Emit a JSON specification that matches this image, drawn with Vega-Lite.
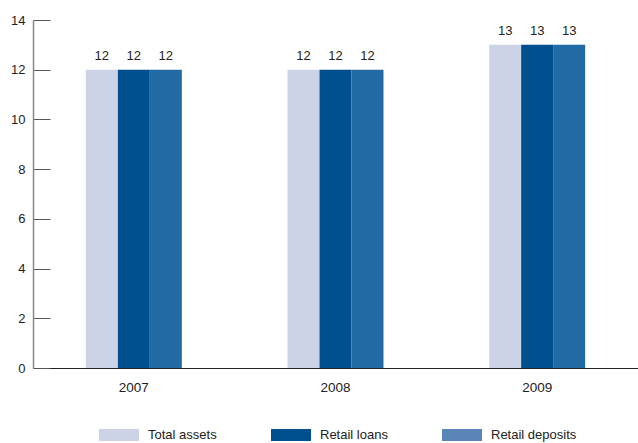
{
  "$schema": "https://vega.github.io/schema/vega-lite/v6.json",
  "width": 605,
  "height": 348,
  "autosize": "none",
  "padding": {"left": 33, "top": 20, "right": 0, "bottom": 75},
  "background": "white",
  "config": {
    "view": {"stroke": null},
    "font": "Liberation Sans",
    "text": {"font": "Liberation Sans"}
  },
  "data": {
    "values": [
      {"year": "2007", "series": "Total assets", "value": 12},
      {"year": "2007", "series": "Retail loans", "value": 12},
      {"year": "2007", "series": "Retail deposits", "value": 12},
      {"year": "2008", "series": "Total assets", "value": 12},
      {"year": "2008", "series": "Retail loans", "value": 12},
      {"year": "2008", "series": "Retail deposits", "value": 12},
      {"year": "2009", "series": "Total assets", "value": 13},
      {"year": "2009", "series": "Retail loans", "value": 13},
      {"year": "2009", "series": "Retail deposits", "value": 13}
    ]
  },
  "encoding": {
    "x": {
      "field": "year", "type": "nominal",
      "scale": {"paddingInner": 0.524, "paddingOuter": 0.262},
      "axis": {
        "title": null, "labelAngle": 0, "ticks": false, "labelPadding": 12,
        "labelFontSize": 13.5, "labelColor": "#222", "domainColor": "#222", "domainWidth": 1
      }
    },
    "xOffset": {
      "field": "series", "type": "nominal",
      "sort": ["Total assets", "Retail loans", "Retail deposits"],
      "scale": {"paddingInner": 0, "paddingOuter": 0}
    },
    "y": {
      "field": "value", "type": "quantitative",
      "scale": {"domain": [0, 14], "nice": false},
      "axis": {
        "title": null, "values": [0, 2, 4, 6, 8, 10, 12, 14], "grid": false,
        "tickSize": -17, "labelPadding": 25, "labelFontSize": 13, "labelColor": "#222",
        "domainColor": "#888", "domainWidth": 1.5, "tickColor": "#555", "tickWidth": 1
      }
    }
  },
  "layer": [
    {
      "mark": {"type": "bar"},
      "encoding": {
        "color": {
          "condition": {"test": "datum.series === 'Retail deposits'", "value": "#226aa4"},
          "field": "series", "type": "nominal",
          "scale": {
            "domain": ["Total assets", "Retail loans", "Retail deposits"],
            "range": ["#cdd3e6", "#00508f", "#5b85b8"]
          },
          "legend": {
            "title": null, "orient": "none", "direction": "horizontal",
            "legendX": 66, "legendY": 395,
            "symbolType": "M-1,-0.3H1V0.3H-1Z", "symbolSize": 1600,
            "symbolStrokeWidth": 0, "symbolOpacity": 1,
            "labelFontSize": 13, "labelColor": "#222", "labelOffset": 9,
            "columnPadding": 54
          }
        }
      }
    },
    {
      "mark": {"type": "text", "baseline": "bottom", "dy": -7, "fontSize": 13, "color": "#222"},
      "encoding": {"text": {"field": "value", "type": "quantitative"}}
    }
  ]
}
